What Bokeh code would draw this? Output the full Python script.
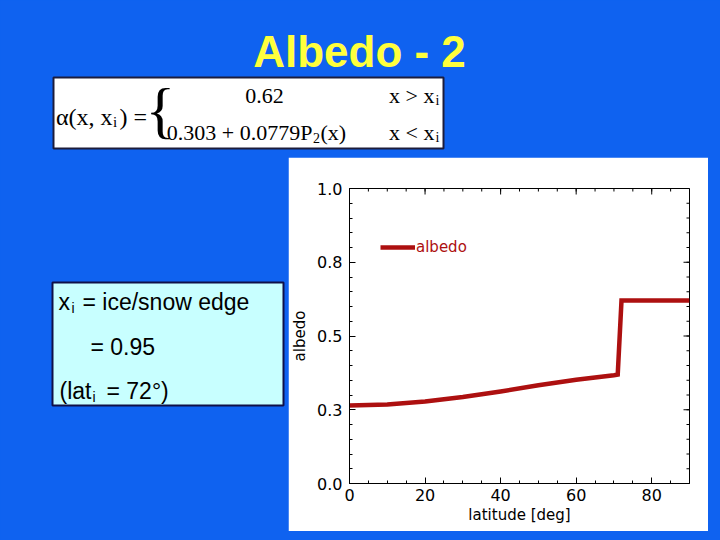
import math
from bokeh.plotting import figure
from bokeh.layouts import column
from bokeh.models import Range1d, FixedTicker, Label
from bokeh.embed import file_html
from bokeh.resources import INLINE

# ---------------- data ----------------
latitude = [0, 10, 20, 30, 40, 50, 60, 70, 71, 72, 90]
albedo = [0.264, 0.268, 0.278, 0.293, 0.312, 0.333, 0.352, 0.367, 0.369, 0.62, 0.62]
series_name = "albedo"

x_ticks = [0, 20, 40, 60, 80]
x_minor = [0, 5, 10, 15, 20, 25, 30, 35, 40, 45, 50, 55, 60, 65, 70, 75, 80, 85, 90]
y_ticks = [0.0, 0.25, 0.5, 0.75, 1.0]
y_tick_labels = ["0.0", "0.3", "0.5", "0.8", "1.0"]
y_minor = [0.0, 0.05, 0.1, 0.15, 0.2, 0.25, 0.3, 0.35, 0.4, 0.45, 0.5, 0.55, 0.6,
           0.65, 0.7, 0.75, 0.8, 0.85, 0.9, 0.95, 1.0]
x_min, x_max = 0, 90
y_min, y_max = 0.0, 1.0

title_text = "Albedo - 2"
x_label = "latitude [deg]"
y_label = "albedo"

# ---------------- styles ----------------
BLUE = "#0f62f0"
YELLOW = "#ffff3c"
RED = "#ad1010"
CYAN = "#c8ffff"
SW, SH = 720, 540

# ---------------- slide background figure (pixel coordinates, y down) ----------------
bg = figure(width=SW, height=SH, x_range=Range1d(0, SW), y_range=Range1d(SH, 0),
            x_axis_type=None, y_axis_type=None, output_backend="svg", toolbar_location=None,
            min_border=0, min_border_left=0, min_border_right=0, min_border_top=0,
            min_border_bottom=0, background_fill_color=BLUE, border_fill_color=BLUE,
            outline_line_color=None)
bg.grid.visible = False
bg.frame_align = False

# formula box and note box
bg.quad(left=[53], right=[443], top=[77], bottom=[148], fill_color="white",
        line_color="#1c1c3c", line_width=2)
bg.quad(left=[52], right=[283], top=[282], bottom=[405], fill_color=CYAN,
        line_color="#101048", line_width=2)

def text(s, x, y, size, font="Liberation Sans", align="left", baseline="alphabetic",
         color="black", style="normal"):
    bg.add_layout(Label(x=x, y=y, text=s, text_font=font, text_font_size=f"{size}px",
                        text_color=color, text_align=align, text_baseline=baseline,
                        text_font_style=style))

# title
text(title_text, 359, 51, 44, align="center", baseline="middle", color=YELLOW, style="bold")

# formula
SERIF = "Liberation Serif"
text("\u03b1(x, x", 112, 116, 24, SERIF, align="right")
text("i", 112.5, 121, 15, SERIF)
text(") =", 119, 116, 24, SERIF)
text("{", 145, 109, 62, SERIF, baseline="middle")
text("0.62", 264, 95, 22, SERIF, align="center")
text("x > x", 434, 95, 22, SERIF, align="right")
text("i", 435, 100, 14, SERIF)
text("0.303 + 0.0779P", 312, 132, 22, SERIF, align="right")
text("2", 312.5, 137, 14, SERIF)
text("(x)", 320, 132, 22, SERIF)
text("x < x", 434, 132, 22, SERIF, align="right")
text("i", 435, 137, 14, SERIF)

# note
text("x", 58, 301, 23)
text("i", 71, 307, 14)
text("= ice/snow edge", 82, 301, 23)
text("= 0.95", 90, 346, 23)
text("(lat", 91, 390, 23, align="right")
text("i", 92, 396, 14)
text("= 72\u00b0)", 106, 390, 23)

# ---------------- chart figure (white panel) ----------------
PANEL_L, PANEL_T, PANEL_R, PANEL_B = 288, 157, 708, 531
FRAME_L, FRAME_T, FRAME_R, FRAME_B = 349, 188, 689, 483

p = figure(width=PANEL_R - PANEL_L, height=PANEL_B - PANEL_T,
           x_range=Range1d(x_min, x_max), y_range=Range1d(y_min, y_max),
           output_backend="svg", toolbar_location=None,
           min_border_left=FRAME_L - PANEL_L, min_border_right=PANEL_R - FRAME_R,
           min_border_top=FRAME_T - PANEL_T, min_border_bottom=PANEL_B - FRAME_B,
           background_fill_color="white", border_fill_color="white",
           outline_line_color="black")
p.grid.visible = False
p.frame_align = False
p.margin = (PANEL_T - SH, 0, 0, PANEL_L)

p.line(latitude, albedo, line_color=RED, line_width=4.5, line_join="miter",
       legend_label=series_name)

def style_axis(ax, ticks, minor):
    ax.ticker = FixedTicker(ticks=ticks, minor_ticks=minor)
    ax.axis_line_color = "black"
    ax.major_tick_line_color = "black"
    ax.minor_tick_line_color = "black"
    ax.major_tick_in = 6
    ax.major_tick_out = 0
    ax.minor_tick_in = 3
    ax.minor_tick_out = 0
    ax.major_label_text_font = "DejaVu Sans"
    ax.major_label_text_font_size = "16px"
    ax.major_label_text_color = "black"
    ax.axis_label_text_font = "DejaVu Sans"
    ax.axis_label_text_font_size = "15px"
    ax.axis_label_text_font_style = "normal"
    ax.axis_label_text_color = "black"

xa = p.xaxis[0]
style_axis(xa, x_ticks, x_minor)
xa.axis_label = x_label
xa.major_label_standoff = 5
xa.axis_label_standoff = 2

ya = p.yaxis[0]
style_axis(ya, y_ticks, y_minor)
ya.axis_label = y_label
ya.major_label_overrides = {t: s for t, s in zip(y_ticks, y_tick_labels)}
ya.major_label_standoff = 7
ya.axis_label_standoff = 5

# inward ticks on the top and right edges of the box
p.ray(x=x_ticks, y=[y_max] * len(x_ticks), length=6, length_units="screen",
      angle=-math.pi / 2, line_color="black", line_width=1)
p.ray(x=x_minor, y=[y_max] * len(x_minor), length=3, length_units="screen",
      angle=-math.pi / 2, line_color="black", line_width=1)
p.ray(x=[x_max] * len(y_ticks), y=y_ticks, length=6, length_units="screen",
      angle=math.pi, line_color="black", line_width=1)
p.ray(x=[x_max] * len(y_minor), y=y_minor, length=3, length_units="screen",
      angle=math.pi, line_color="black", line_width=1)

# legend
leg = p.legend[0]
leg.location = (380 - FRAME_L, FRAME_B - 256)
leg.glyph_width = 35
leg.glyph_height = 14
leg.label_height = 14
leg.label_standoff = 1
leg.padding = 0
leg.margin = 0
leg.spacing = 0
leg.background_fill_alpha = 0
leg.border_line_alpha = 0
leg.label_text_font = "DejaVu Sans"
leg.label_text_font_size = "15px"
leg.label_text_color = RED

layout = column(bg, p)

html = file_html(layout, INLINE)
html = html.replace("</head>", "<style>html, body {background: %s;}</style></head>" % BLUE, 1)
open("out.html", "w").write(html)
